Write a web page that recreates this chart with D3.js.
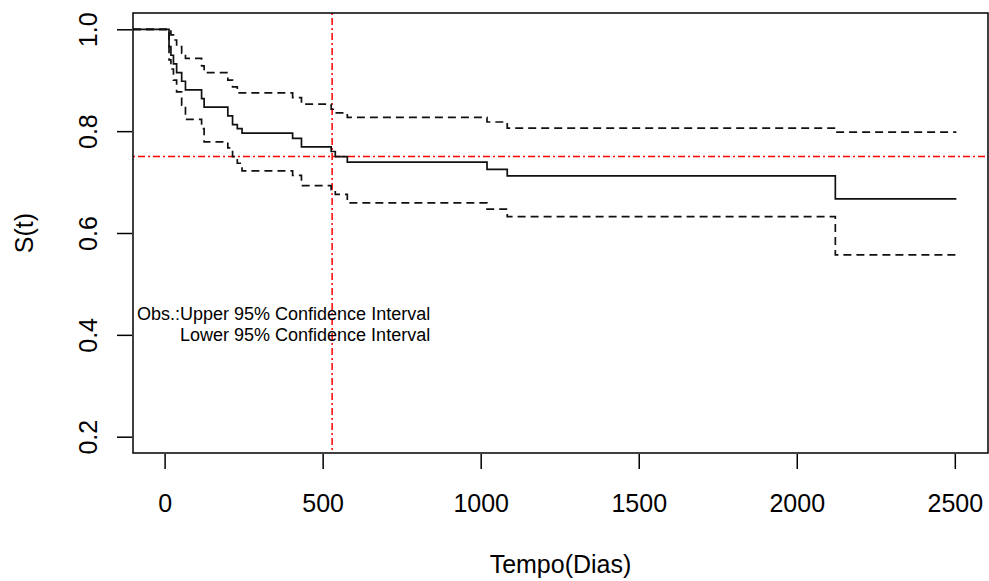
<!DOCTYPE html>
<html>
<head>
<meta charset="utf-8">
<script src="https://d3js.org/d3.v7.min.js"></script>
<style>
  body { margin: 0; background: #fff; }
  text { font-family: "Liberation Sans", Arial, sans-serif; fill: #000; }
</style>
</head>
<body>
<script>
// tempos (dias) e estimativas de Kaplan-Meier
var times = [0, 14, 20, 28, 38, 54, 66, 117, 125, 200, 215, 230, 245, 405, 433, 527, 540, 578, 1020, 1084, 2122, 2505];
var surv  = [1, .966, .949, .932, .915, .898, .881, .864, .847, .830, .813, .805, .796, .786, .769, .760, .750, .739, .725, .712, .667, .667];
var upper = [1, 1, .989, .979, .966, .953, .943, .928, .915, .900, .887, .875, .875, .866, .853, .843, .836, .827, .818, .806, .798, .798];
var lower = [1, .940, .922, .900, .877, .851, .823, .805, .779, .767, .750, .737, .722, .713, .693, .685, .676, .659, .647, .632, .557, .557];

var xTicks = [0, 500, 1000, 1500, 2000, 2500];
var yTicks = [0.2, 0.4, 0.6, 0.8, 1.0];
var refTime = 530, refSurv = 0.75;

var width = 989, height = 581;
var pLeft = 133, pRight = 988, pTop = 13, pBottom = 453;

var x = d3.scaleLinear().domain([-100, 2605]).range([pLeft, pRight]);
var y = d3.scaleLinear().domain([0.168, 1.032]).range([pBottom, pTop]);

var svg = d3.select("body").append("svg")
  .attr("width", width).attr("height", height);

// linhas de referencia
svg.append("line")
  .attr("x1", pLeft).attr("x2", pRight)
  .attr("y1", y(refSurv)).attr("y2", y(refSurv))
  .attr("stroke", "#ff0000").attr("stroke-width", 1.5)
  .attr("stroke-dasharray", "2,3,7,3");
svg.append("line")
  .attr("x1", x(refTime)).attr("x2", x(refTime))
  .attr("y1", pTop).attr("y2", pBottom)
  .attr("stroke", "#ff0000").attr("stroke-width", 1.5)
  .attr("stroke-dasharray", "2,3,7,3");

// curvas em degrau
function stepLine(vals) {
  var pts = times.map(function(t, i){ return [t, vals[i]]; });
  pts[0][0] = x.domain()[0];
  return d3.line()
    .x(function(d){ return x(d[0]); })
    .y(function(d){ return y(d[1]); })
    .curve(d3.curveStepAfter)(pts);
}

[upper, lower].forEach(function(v){
  svg.append("path").attr("d", stepLine(v))
    .attr("fill", "none").attr("stroke", "#111").attr("stroke-width", 1.7)
    .attr("stroke-dasharray", "8,5");
});
svg.append("path").attr("d", stepLine(surv))
  .attr("fill", "none").attr("stroke", "#111").attr("stroke-width", 1.7);

// caixa
svg.append("rect")
  .attr("x", pLeft).attr("y", pTop)
  .attr("width", pRight - pLeft).attr("height", pBottom - pTop)
  .attr("fill", "none").attr("stroke", "#000").attr("stroke-width", 1.5);

// eixos
var xAxis = svg.append("g")
  .attr("transform", "translate(0," + (pBottom + 1) + ")")
  .call(d3.axisBottom(x).tickValues(xTicks).tickSize(15).tickPadding(25).tickFormat(d3.format("d")));
xAxis.select(".domain").remove();
xAxis.selectAll("text").style("font-size", "25px").attr("font-family", null);
xAxis.selectAll("line").attr("stroke-width", 1.5);

var yAxis = svg.append("g")
  .attr("transform", "translate(" + (pLeft - 1) + ",0)")
  .call(d3.axisLeft(y).tickValues(yTicks).tickSize(15).tickFormat(d3.format(".1f")));
yAxis.select(".domain").remove();
yAxis.selectAll("line").attr("stroke-width", 1.5);
yAxis.selectAll("text")
  .attr("x", null).attr("dy", null)
  .attr("text-anchor", "middle")
  .attr("transform", "translate(-35,0) rotate(-90)")
  .style("font-size", "25px");

svg.append("text")
  .attr("x", (pLeft + pRight) / 2).attr("y", 573)
  .attr("text-anchor", "middle").style("font-size", "25px")
  .text("Tempo(Dias)");
svg.append("text")
  .attr("transform", "translate(33," + ((pTop + pBottom) / 2) + ") rotate(-90)")
  .attr("text-anchor", "middle").style("font-size", "25px")
  .text("S(t)");

svg.append("text").attr("x", 137).attr("y", 320).style("font-size", "18px")
  .text("Obs.:Upper 95% Confidence Interval");
svg.append("text").attr("x", 180).attr("y", 341).style("font-size", "18px")
  .text("Lower 95% Confidence Interval");
</script>
</body>
</html>
